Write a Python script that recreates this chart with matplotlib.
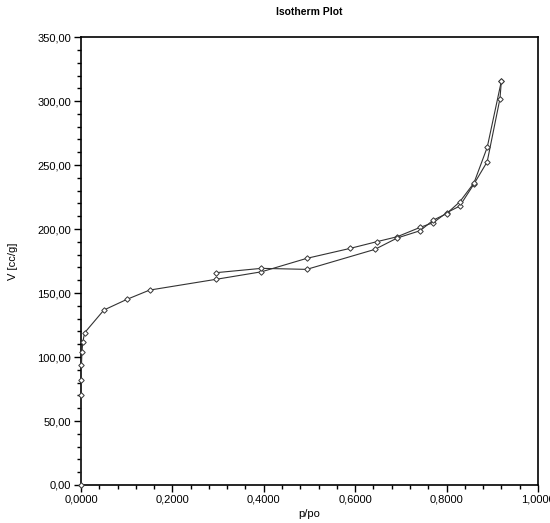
import matplotlib
matplotlib.use("Agg")
import matplotlib.pyplot as plt
from matplotlib.ticker import MultipleLocator, FuncFormatter

# Adsorption branch (p/po, volume adsorbed in cc/g)
ads_p = [0.0, 0.0002, 0.0005, 0.001, 0.002, 0.004, 0.008, 0.05, 0.10, 0.15, 0.295, 0.395,
         0.494, 0.589, 0.647, 0.692, 0.742, 0.771, 0.800, 0.829, 0.860, 0.889, 0.917, 0.920]
ads_v = [0.0, 70.0, 82.0, 94.0, 104.0, 112.0, 119.0, 136.7, 145.0, 152.3, 160.7, 166.6,
         177.1, 184.9, 190.1, 194.0, 201.3, 205.0, 212.7, 218.0, 235.2, 252.6, 302.0, 315.6]

# Desorption branch
des_p = [0.920, 0.889, 0.860, 0.829, 0.800, 0.771, 0.742, 0.692, 0.643, 0.494, 0.395, 0.295]
des_v = [315.6, 263.8, 236.0, 221.3, 212.0, 207.0, 198.7, 193.0, 184.1, 168.5, 169.3, 165.9]

plt.rcParams['font.family'] = ['Liberation Sans', 'DejaVu Sans']

fig = plt.figure(figsize=(5.5, 5.23), dpi=100)
ax = fig.add_axes([0.1473, 0.0727, 0.978 - 0.1473, 0.929 - 0.0727])

line_kw = dict(color='#333333', lw=0.8, marker='D', markersize=2.8,
               markerfacecolor='white', markeredgecolor='#333333',
               markeredgewidth=0.7, clip_on=False, zorder=3)
ax.plot(ads_p, ads_v, **line_kw)
ax.plot(des_p, des_v, **line_kw)

ax.set_xlim(0, 1.0)
ax.set_ylim(0, 350)

ax.xaxis.set_major_locator(MultipleLocator(0.2))
ax.xaxis.set_minor_locator(MultipleLocator(0.04))
ax.yaxis.set_major_locator(MultipleLocator(50))
ax.yaxis.set_minor_locator(MultipleLocator(10))

ax.xaxis.set_major_formatter(FuncFormatter(lambda v, p: f"{v:.4f}".replace('.', ',')))
ax.yaxis.set_major_formatter(FuncFormatter(lambda v, p: f"{v:.2f}".replace('.', ',')))

ax.tick_params(which='both', direction='out', top=False, right=False,
               labelsize=8, colors='black', pad=2)
ax.tick_params(which='major', length=5, width=1.0)
ax.tick_params(which='minor', length=3, width=1.0)

for s in ax.spines.values():
    s.set_linewidth(1.2)
    s.set_color('black')

ax.set_title("Isotherm Plot", fontsize=7.5, fontweight='bold', pad=16)
ax.set_xlabel("p/po", fontsize=8, labelpad=3)
ax.set_ylabel("V [cc/g]", fontsize=8, labelpad=14)

fig.savefig("out.png", dpi=100, facecolor='white')
